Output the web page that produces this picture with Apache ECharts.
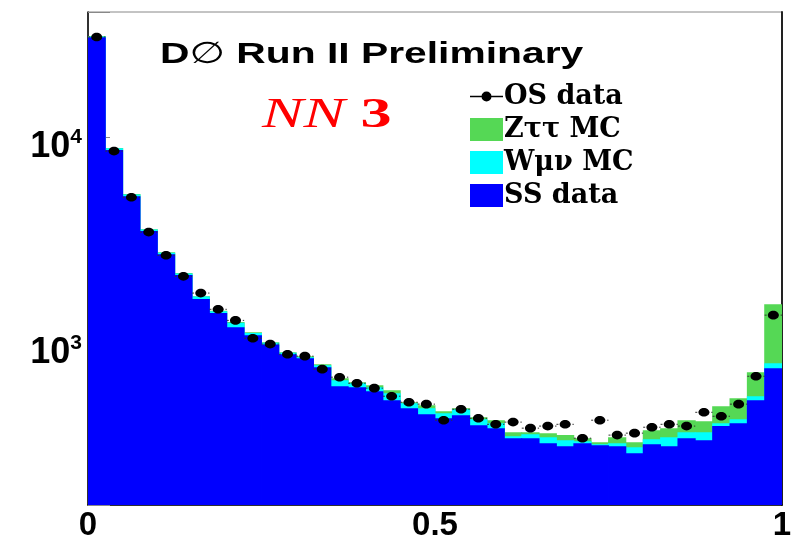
<!DOCTYPE html>
<html>
<head>
<meta charset="utf-8">
<script src="https://cdn.jsdelivr.net/npm/echarts@6/dist/echarts.min.js"></script>
<style>
  html, body { margin: 0; padding: 0; background: #fff; }
  #chart { width: 793px; height: 537px; }
</style>
</head>
<body>
<div id="chart"></div>
<script>
// NN output in 40 bins between 0 and 1, events per bin
const ssData = [30500, 8650, 5170, 3500, 2700, 2140, 1636, 1400, 1196, 1094,
  985, 884, 846, 765, 618, 611, 585, 529, 484, 452,
  432, 447, 400, 387, 346, 346, 327, 316, 327, 320,
  316, 292, 323, 316, 346, 338, 396, 409, 529, 756]
const wmunuMC = [300, 180, 100, 60, 50, 40, 50, 30, 60, 25,
  20, 15, 9, 17, 43, 28, 26, 43, 27, 32,
  25, 31, 28, 22, 8, 16, 23, 22, 7, 3,
  11, 21, 19, 34, 24, 32, 13, 19, 24, 44]
const ztautauMC = [100, 30, 20, 15, 15, 10, 5, 5, 10, 12,
  6, 5, 10, 9, 15, 8, 14, 19, 6, 16,
  11, 6, 9, 14, 16, 8, 16, 20, 12, 8,
  23, 18, 36, 37, 53, 48, 85, 113, 170, 746]
const osData = [30600, 8550, 5110, 3460, 2670, 2110, 1750, 1460, 1290, 1057,
  990, 884, 865, 748, 684, 639, 605, 553, 517, 506,
  423, 478, 432, 404, 414, 387, 396, 404, 346, 423,
  358, 366, 391, 404, 396, 462, 442, 506, 691, 1368]
const yLabelPowers = [3, 4]

const bins = ssData.map((_, i) => ((i + 0.5) / ssData.length).toFixed(4))

// histograms are drawn back to front as cumulative sums
const ssPlusW = ssData.map((v, i) => v + wmunuMC[i])
const total = ssPlusW.map((v, i) => v + ztautauMC[i])

const osIcon = 'path://M0,4.3h33v1.4H0z M21.5,5a5,5 0 1,1 -10,0a5,5 0 1,1 10,0z'

const chart = echarts.init(document.getElementById('chart'))

function histBar(name, color, data) {
  return {
    name,
    type: 'bar',
    xAxisIndex: 0,
    yAxisIndex: 0,
    // a touch wider than the bin so neighbouring bins overlap and leave no seam
    barWidth: '105%',
    barGap: '-100%',
    clip: true,
    itemStyle: { color },
    emphasis: { disabled: true },
    data
  }
}

chart.setOption({
  animation: false,
  grid: {
    left: 88,
    right: 11,
    top: 12,
    bottom: 32,
    show: true,
    borderColor: '#888',
    borderWidth: 1,
    outerBoundsMode: 'none'
  },
  legend: {
    orient: 'vertical',
    left: 465,
    top: 78,
    itemWidth: 33,
    itemHeight: 23,
    itemGap: 6,
    selectedMode: false,
    textStyle: {
      fontFamily: 'DejaVu Serif',
      fontWeight: 'bold',
      fontSize: 27,
      color: '#000',
      padding: [0, 0, 0, -4]
    },
    data: [
      { name: 'OS data', icon: osIcon },
      { name: 'Zττ MC', icon: 'rect' },
      { name: 'Wμν MC', icon: 'rect' },
      { name: 'SS data', icon: 'rect' }
    ]
  },
  graphic: [
    {
      type: 'text',
      x: 160,
      y: 55,
      scaleX: 1.36,
      style: {
        text: '{b|D}{o|∅}{b| Run II Preliminary}',
        verticalAlign: 'middle',
        rich: {
          b: { fontFamily: 'Liberation Sans', fontWeight: 'bold', fontSize: 30, fill: '#000' },
          o: { fontFamily: 'DejaVu Sans', fontSize: 30, fill: '#000' }
        }
      }
    },
    {
      type: 'text',
      x: 262,
      y: 116,
      scaleX: 1.48,
      style: {
        text: '{i|NN }{b|3}',
        verticalAlign: 'middle',
        rich: {
          i: { fontFamily: 'Liberation Serif', fontStyle: 'italic', fontSize: 42, fill: '#ff0000' },
          b: { fontFamily: 'Liberation Serif', fontWeight: 'bold', fontSize: 42, fill: '#ff0000' }
        }
      }
    }
  ],
  xAxis: [
    {
      type: 'category',
      data: bins,
      boundaryGap: true,
      show: false
    },
    {
      type: 'value',
      min: 0,
      max: 1,
      interval: 0.5,
      position: 'bottom',
      axisLine: { show: true, onZero: false, lineStyle: { color: '#000', width: 1.5 } },
      axisTick: { show: false },
      splitLine: { show: false },
      axisLabel: {
        margin: 4,
        color: '#000',
        fontFamily: 'Liberation Sans',
        fontWeight: 'bold',
        fontSize: 33
      }
    }
  ],
  yAxis: [
    {
      type: 'log',
      logBase: 10,
      min: 164,
      max: 40450,
      axisLine: { show: true, lineStyle: { color: '#000', width: 1.5 } },
      axisTick: { show: true, inside: true, length: 22, lineStyle: { color: '#888' } },
      splitLine: { show: false },
      minorTick: { show: false },
      axisLabel: {
        margin: 6,
        formatter(value) {
          const lg = Math.log10(value)
          const p = Math.round(lg)
          if (Math.abs(lg - p) > 1e-6 || !yLabelPowers.includes(p)) return ''
          return `{base|10}{sup|${p}}`
        },
        rich: {
          base: {
            fontFamily: 'Liberation Sans',
            fontWeight: 'bold',
            fontSize: 36,
            color: '#000',
            padding: [20, 0, 0, 0]
          },
          sup: {
            fontFamily: 'Liberation Sans',
            fontWeight: 'bold',
            fontSize: 21,
            color: '#000'
          }
        }
      }
    },
    {
      type: 'value',
      position: 'right',
      axisLine: { show: true, lineStyle: { color: '#222', width: 2 } },
      axisTick: { show: false },
      axisLabel: { show: false },
      splitLine: { show: false }
    }
  ],
  series: [
    histBar('Zττ MC', '#55d855', total),
    histBar('Wμν MC', '#00ffff', ssPlusW),
    histBar('SS data', '#0000ff', ssData),
    {
      name: 'OS data',
      type: 'custom',
      xAxisIndex: 0,
      yAxisIndex: 0,
      z: 5,
      itemStyle: { color: '#000' },
      renderItem(params, api) {
        const c = api.coord([api.value(0), api.value(1)])
        const w = api.size([1, 0])[0]
        return {
          type: 'group',
          children: [
            {
              type: 'line',
              shape: { x1: c[0] - w / 2, y1: c[1], x2: c[0] + w / 2, y2: c[1] },
              style: { stroke: '#333', lineWidth: 1, lineDash: [2, 2] }
            },
            {
              type: 'ellipse',
              shape: { cx: c[0], cy: c[1], rx: 5.5, ry: 4.3 },
              style: { fill: '#000' }
            }
          ]
        }
      },
      data: osData.map((v, i) => [i, v])
    }
  ]
})
</script>
</body>
</html>
